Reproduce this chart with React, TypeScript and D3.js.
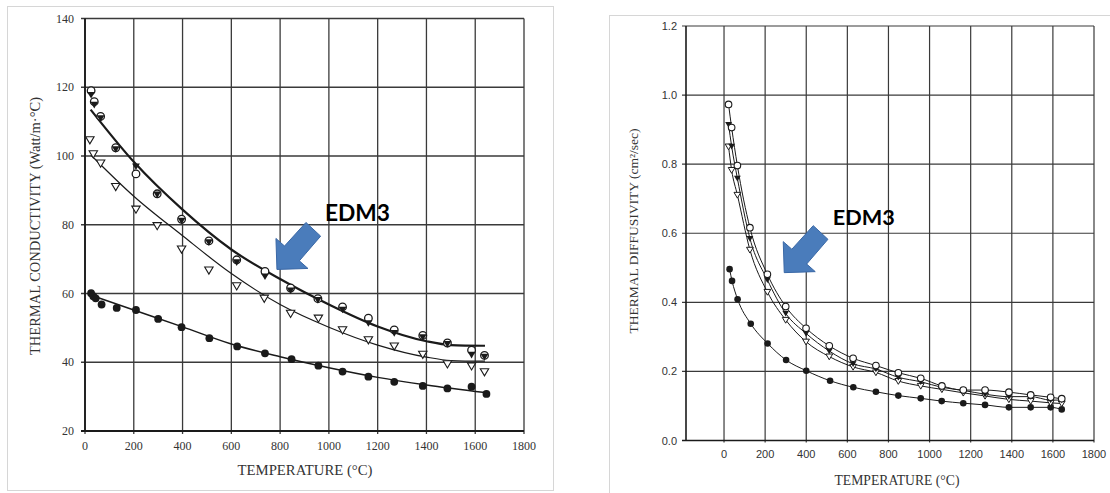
import React from "react";
import * as d3 from "d3";

// ---------- Left chart: thermal conductivity ----------
const condXTicks = [0, 200, 400, 600, 800, 1000, 1200, 1400, 1600, 1800];
const condYTicks = [20, 40, 60, 80, 100, 120, 140];

const condOpenCircleT = [25, 38, 64, 126, 209, 296, 396, 508, 622, 738, 843, 955, 1056, 1162, 1268, 1385, 1486, 1585, 1638];
const condOpenCircleK = [119.0, 115.8, 111.5, 102.4, 94.8, 89.0, 81.6, 75.3, 69.8, 66.4, 61.6, 58.5, 56.1, 52.8, 49.4, 47.8, 45.6, 43.5, 42.0];
const condFilledTriK = [117.8, 114.9, 111.0, 102.0, 97.0, 88.8, 81.2, 74.9, 69.1, 65.0, 60.9, 58.1, 55.3, 51.4, 48.5, 47.3, 45.3, 42.2, 41.6];

const condOpenTriT = [20, 34, 64, 126, 209, 296, 396, 508, 622, 735, 843, 957, 1056, 1162, 1268, 1385, 1486, 1585, 1638];
const condOpenTriK = [104.7, 100.6, 97.9, 91.1, 84.5, 79.7, 72.9, 66.8, 62.2, 58.6, 54.2, 52.8, 49.4, 46.5, 44.7, 42.3, 39.5, 38.9, 37.2];

const condDotT = [25, 34, 44, 68, 130, 209, 300, 396, 510, 624, 738, 847, 957, 1056, 1162, 1268, 1385, 1486, 1585, 1646];
const condDotK = [60.1, 59.2, 58.6, 56.8, 55.8, 55.2, 52.6, 50.2, 47.0, 44.6, 42.6, 40.9, 39.0, 37.3, 35.8, 34.3, 33.1, 32.4, 32.9, 30.8];

const fitTopT = [23, 200, 400, 600, 800, 1000, 1200, 1400, 1500, 1640];
const fitTopK = [113.5, 98.3, 84.4, 72.8, 64.2, 56.8, 50.4, 46.1, 45.0, 44.8];
const fitMidT = [24, 200, 400, 600, 800, 1000, 1200, 1400, 1500, 1640];
const fitMidK = [100.3, 88.3, 76.8, 65.8, 56.8, 50.2, 45.0, 41.5, 40.5, 40.3];
const fitLowT = [25, 200, 400, 600, 800, 1000, 1200, 1400, 1640];
const fitLowK = [59.5, 55.2, 50.3, 45.3, 41.6, 38.4, 35.6, 33.4, 31.2];

// ---------- Right chart: thermal diffusivity ----------
const diffXTicks = [0, 200, 400, 600, 800, 1000, 1200, 1400, 1600, 1800];
const diffYTicks = [0.0, 0.2, 0.4, 0.6, 0.8, 1.0, 1.2];

const diffT = [22, 37, 65, 126, 211, 300, 399, 512, 628, 739, 848, 957, 1060, 1164, 1270, 1386, 1492, 1589, 1643];
const diffOpenCircle = [0.973, 0.906, 0.796, 0.616, 0.481, 0.388, 0.325, 0.274, 0.238, 0.217, 0.196, 0.180, 0.158, 0.146, 0.146, 0.140, 0.132, 0.125, 0.121];
const diffFilledTri = [0.915, 0.852, 0.759, 0.585, 0.465, 0.368, 0.310, 0.259, 0.222, 0.207, 0.183, 0.170, 0.154, 0.145, 0.134, 0.127, 0.127, 0.117, 0.117];
const diffOpenTri = [0.851, 0.783, 0.711, 0.552, 0.430, 0.349, 0.286, 0.243, 0.213, 0.197, 0.172, 0.158, 0.148, 0.138, 0.129, 0.119, 0.114, 0.109, 0.107];
const diffDotT = [27, 39, 66, 130, 212, 302, 400, 516, 629, 739, 848, 957, 1059, 1164, 1270, 1386, 1492, 1589, 1643];
const diffDot = [0.496, 0.462, 0.409, 0.338, 0.281, 0.233, 0.202, 0.173, 0.154, 0.141, 0.130, 0.122, 0.114, 0.108, 0.103, 0.096, 0.096, 0.096, 0.090];

// annotations (data coordinates)
const condArrowTip = [787, 67];
const condLabelAt = [984, 81.1];
const diffArrowTip = [293, 0.486];
const diffLabelAt = [529, 0.624];

const SERIF = "'Liberation Serif', 'Times New Roman', serif";
const SANS = "'Liberation Sans', Arial, sans-serif";
const INK = "#1a1a1a";
const GRID = "#3a3a3a";

const zip = (a: number[], b: number[]) => a.map((v, i) => [v, b[i]] as [number, number]);

function triPath(x: number, y: number, s: number, down: boolean) {
  const d = down ? 1 : -1;
  return `M${x - s},${y - d * s * 0.75}L${x + s},${y - d * s * 0.75}L${x},${y + d * s * 0.95}Z`;
}

const arrowShape: [number, number][] = [
  [0, 0], [-1, -31], [7.6, -23.4], [29, -47], [43.7, -33.3], [22.4, -8.6], [31, -1],
];

function Arrow({ x, y }: { x: number; y: number }) {
  const pts = arrowShape.map(([dx, dy]) => `${x + dx},${y + dy}`).join(" ");
  return <polygon points={pts} fill="#4a7cbb" stroke="#3a68a6" strokeWidth={1} />;
}

function ConductivityChart() {
  const x = d3.scaleLinear().domain([0, 1800]).range([85, 524]);
  const y = d3.scaleLinear().domain([20, 140]).range([431, 18.5]);
  const line = d3.line<[number, number]>().x((d) => x(d[0])).y((d) => y(d[1])).curve(d3.curveMonotoneX);
  const [x0, x1] = x.range();
  const [y0, y1] = y.range();
  return (
    <g>
      <rect x={7.5} y={6.5} width={546} height={484} fill="#fff" stroke="#d6d6d6" />
      {condXTicks.map((t) => (
        <line key={"gx" + t} x1={x(t)} x2={x(t)} y1={y1} y2={y0 + 3} stroke={GRID} strokeWidth={1.3} />
      ))}
      {condYTicks.map((t) => (
        <line key={"gy" + t} x1={x0 - 4} x2={x1} y1={y(t)} y2={y(t)} stroke={GRID} strokeWidth={1.3} />
      ))}
      <line x1={x0} x2={x0} y1={y1} y2={y0} stroke={INK} strokeWidth={1.8} />
      <line x1={x0 - 4} x2={x1} y1={y0} y2={y0} stroke={INK} strokeWidth={1.8} />
      {condYTicks.map((t) => (
        <text key={"ly" + t} x={74} y={y(t) + 4} textAnchor="end" fontFamily={SERIF} fontSize={12} fill="#333">{t}</text>
      ))}
      {condXTicks.map((t) => (
        <text key={"lx" + t} x={x(t)} y={450} textAnchor="middle" fontFamily={SERIF} fontSize={12} fill="#333">{t}</text>
      ))}
      <text x={305} y={475} textAnchor="middle" fontFamily={SERIF} fontSize={14} fill="#333" textLength={135} lengthAdjust="spacingAndGlyphs">TEMPERATURE (°C)</text>
      <text transform="translate(40,226) rotate(-90)" textAnchor="middle" fontFamily={SERIF} fontSize={14} fill="#333" textLength={258} lengthAdjust="spacingAndGlyphs">THERMAL CONDUCTIVITY (Watt/m·°C)</text>

      <path d={line(zip(fitTopT, fitTopK)) || ""} fill="none" stroke={INK} strokeWidth={2.2} />
      <path d={line(zip(fitMidT, fitMidK)) || ""} fill="none" stroke={INK} strokeWidth={1.2} />
      <path d={line(zip(fitLowT, fitLowK)) || ""} fill="none" stroke={INK} strokeWidth={1.5} />

      {condDotT.map((t, i) => (
        <circle key={"cd" + i} cx={x(t)} cy={y(condDotK[i])} r={3.9} fill={INK} />
      ))}
      {condOpenTriT.map((t, i) => (
        <path key={"ct" + i} d={triPath(x(t), y(condOpenTriK[i]), 4.2, true)} fill="#fff" stroke={INK} strokeWidth={1.1} />
      ))}
      {condOpenCircleT.map((t, i) => (
        <circle key={"co" + i} cx={x(t)} cy={y(condOpenCircleK[i])} r={3.8} fill="#fff" stroke={INK} strokeWidth={1.3} />
      ))}
      {condOpenCircleT.map((t, i) => (
        <path key={"cf" + i} d={triPath(x(t), y(condFilledTriK[i]), 3.9, true)} fill={INK} />
      ))}

      <Arrow x={x(condArrowTip[0])} y={y(condArrowTip[1])} />
      <text x={x(condLabelAt[0])} y={y(condLabelAt[1])} fontFamily="Lato, 'Open Sans', sans-serif" fontWeight={700} fontSize={22} fill="#000" textLength={65} lengthAdjust="spacingAndGlyphs">EDM3</text>
    </g>
  );
}

function DiffusivityChart() {
  const x = d3.scaleLinear().domain([-185, 1800]).range([686, 1094]);
  const y = d3.scaleLinear().domain([0, 1.2]).range([440.5, 26]);
  const line = d3.line<[number, number]>().x((d) => x(d[0])).y((d) => y(d[1])).curve(d3.curveMonotoneX);
  const [x0, x1] = x.range();
  const [y0, y1] = y.range();
  return (
    <g>
      <rect x={609.5} y={15.5} width={600} height={520} fill="#fff" stroke="#d6d6d6" />
      {diffXTicks.map((t) => (
        <line key={"gx" + t} x1={x(t)} x2={x(t)} y1={y1} y2={y0 + 2} stroke={GRID} strokeWidth={1.2} />
      ))}
      {diffYTicks.map((t) => (
        <line key={"gy" + t} x1={x0 - 4} x2={x1} y1={y(t)} y2={y(t)} stroke={GRID} strokeWidth={1.2} />
      ))}
      <line x1={x0} x2={x0} y1={y1} y2={y0} stroke={INK} strokeWidth={1.6} />
      <line x1={x0 - 4} x2={x1} y1={y0} y2={y0} stroke={INK} strokeWidth={1.6} />
      {diffYTicks.map((t) => (
        <text key={"ly" + t} x={677} y={y(t) + 4} textAnchor="end" fontFamily={SANS} fontSize={11} fill="#333">{t.toFixed(1)}</text>
      ))}
      {diffXTicks.map((t) => (
        <text key={"lx" + t} x={x(t)} y={458} textAnchor="middle" fontFamily={SANS} fontSize={11} fill="#333">{t}</text>
      ))}
      <text x={897} y={485} textAnchor="middle" fontFamily={SERIF} fontSize={14} fill="#333" textLength={125} lengthAdjust="spacingAndGlyphs">TEMPERATURE (°C)</text>
      <text transform="translate(638,231) rotate(-90)" textAnchor="middle" fontFamily={SERIF} fontSize={13} fill="#333" textLength={205} lengthAdjust="spacingAndGlyphs">THERMAL DIFFUSIVITY (cm²/sec)</text>

      <path d={line(zip(diffT, diffOpenTri)) || ""} fill="none" stroke={INK} strokeWidth={1} />
      <path d={line(zip(diffT, diffFilledTri)) || ""} fill="none" stroke={INK} strokeWidth={1} />
      <path d={line(zip(diffT, diffOpenCircle)) || ""} fill="none" stroke={INK} strokeWidth={1} />
      <path d={line(zip(diffDotT, diffDot)) || ""} fill="none" stroke={INK} strokeWidth={1} />

      {diffDotT.map((t, i) => (
        <circle key={"dd" + i} cx={x(t)} cy={y(diffDot[i])} r={3.3} fill={INK} />
      ))}
      {diffT.map((t, i) => (
        <path key={"dt" + i} d={triPath(x(t), y(diffOpenTri[i]), 3.4, true)} fill="#fff" stroke={INK} strokeWidth={1} />
      ))}
      {diffT.map((t, i) => (
        <path key={"df" + i} d={triPath(x(t), y(diffFilledTri[i]), 3.4, true)} fill={INK} />
      ))}
      {diffT.map((t, i) => (
        <circle key={"dc" + i} cx={x(t)} cy={y(diffOpenCircle[i])} r={3.3} fill="#fff" stroke={INK} strokeWidth={1.1} />
      ))}

      <Arrow x={x(diffArrowTip[0])} y={y(diffArrowTip[1])} />
      <text x={x(diffLabelAt[0])} y={y(diffLabelAt[1])} fontFamily="Lato, 'Open Sans', sans-serif" fontWeight={700} fontSize={21} fill="#000" textLength={62} lengthAdjust="spacingAndGlyphs">EDM3</text>
    </g>
  );
}

export default function App() {
  return (
    <svg width={1110} height={493} viewBox="0 0 1110 493" style={{ position: "absolute", left: 0, top: 0, background: "#fff" }}>
      <rect x={0} y={0} width={1110} height={493} fill="#fff" />
      <ConductivityChart />
      <DiffusivityChart />
    </svg>
  );
}
